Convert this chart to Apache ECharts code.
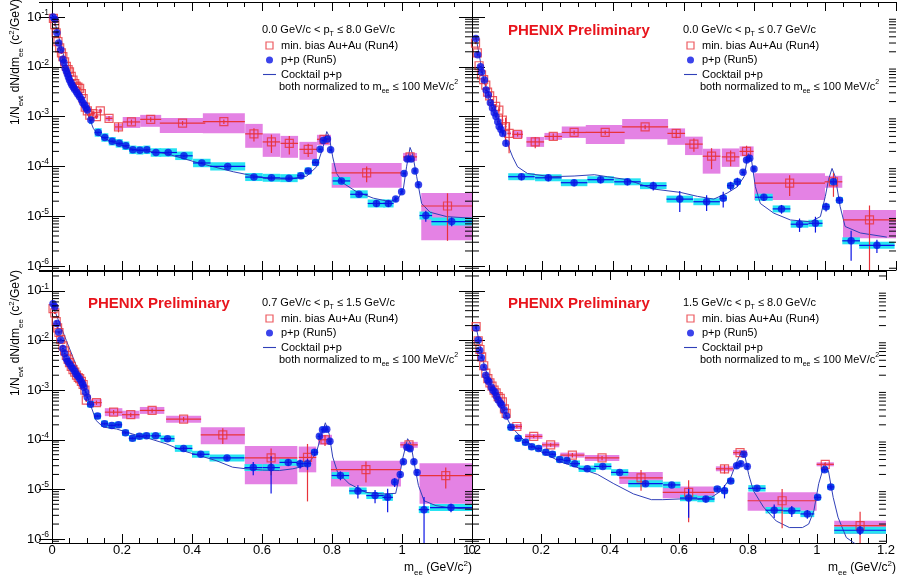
<!DOCTYPE html>
<html><head><meta charset="utf-8">
<script src="https://cdn.jsdelivr.net/npm/echarts@6/dist/echarts.min.js"></script>
<style>html,body{margin:0;padding:0;background:#fff}#c{width:898px;height:583px}</style>
</head><body><div id="c"></div>
<script>
// ---- DATA: [mass, yield, halfBinWidth, statRelErr, sysUpDex, sysDownDex] ----
const tlAuAu = [
[0.004,0.094,0.0025,0.05,0.02,0.02],[0.008,0.070,0.0025,0.05,0.02,0.02],[0.012,0.048,0.0025,0.05,0.02,0.02],
[0.017,0.032,0.0025,0.05,0.02,0.02],[0.022,0.024,0.0025,0.05,0.02,0.02],[0.027,0.019,0.0025,0.05,0.02,0.02],
[0.031,0.016,0.0025,0.05,0.02,0.02],[0.036,0.0125,0.0025,0.05,0.02,0.02],[0.041,0.0102,0.0025,0.05,0.02,0.02],
[0.046,0.0088,0.0025,0.05,0.02,0.02],[0.050,0.0079,0.0025,0.05,0.02,0.02],[0.055,0.0064,0.0025,0.05,0.02,0.02],
[0.060,0.0054,0.0025,0.05,0.02,0.02],[0.065,0.0046,0.0025,0.05,0.02,0.02],[0.069,0.0041,0.0025,0.05,0.02,0.02],
[0.074,0.0039,0.0025,0.05,0.02,0.02],[0.079,0.0037,0.0025,0.05,0.02,0.02],[0.084,0.0029,0.0025,0.05,0.02,0.02],
[0.089,0.0023,0.0025,0.05,0.02,0.02],[0.095,0.00155,0.0025,0.08,0.03,0.03],[0.101,0.0013,0.0025,0.08,0.03,0.03],
[0.108,0.00107,0.005,0.1,0.04,0.04],[0.117,0.00115,0.005,0.1,0.04,0.04],[0.127,0.0010,0.005,0.1,0.04,0.04],
[0.138,0.0013,0.005,0.1,0.04,0.04],[0.163,0.00092,0.01,0.12,0.05,0.05],[0.190,0.00062,0.01,0.22,0.06,0.06],
[0.227,0.00078,0.025,0.12,0.10,0.12],[0.282,0.00088,0.03,0.1,0.09,0.15],[0.373,0.00074,0.065,0.1,0.10,0.20],
[0.491,0.00079,0.06,0.1,0.17,0.23],[0.577,0.00045,0.025,0.3,0.20,0.28],[0.627,0.00031,0.025,0.4,0.17,0.30],
[0.678,0.00029,0.025,0.4,0.15,0.29],[0.732,0.00022,0.025,0.3,0.15,0.21],[0.777,0.00035,0.02,0.15,0.09,0.12],
[0.899,0.000074,0.1,0.35,0.20,0.30],[1.023,0.000155,0.02,0.15,0.08,0.08],[1.13,0.000016,0.075,0.8,0.26,0.69]
];
const tlPP = [
[0.003,0.10,0.0025,0.03,0.02,0.02],[0.008,0.090,0.0025,0.03,0.02,0.02],[0.014,0.048,0.0025,0.03,0.02,0.02],
[0.019,0.030,0.0025,0.03,0.02,0.02],[0.025,0.022,0.0025,0.03,0.02,0.02],[0.031,0.0142,0.0025,0.03,0.02,0.02],
[0.034,0.012,0.0025,0.03,0.02,0.02],[0.038,0.0093,0.0025,0.03,0.02,0.02],[0.041,0.0082,0.0025,0.03,0.02,0.02],
[0.044,0.0072,0.0025,0.03,0.02,0.02],[0.047,0.0062,0.0025,0.03,0.02,0.02],[0.050,0.0054,0.0025,0.03,0.02,0.02],
[0.054,0.0048,0.0025,0.03,0.02,0.02],[0.057,0.0043,0.0025,0.03,0.02,0.02],[0.061,0.0039,0.0025,0.03,0.02,0.02],
[0.065,0.0035,0.0025,0.03,0.02,0.02],[0.070,0.0031,0.0025,0.03,0.02,0.02],[0.074,0.0028,0.0025,0.03,0.02,0.02],
[0.079,0.0025,0.0025,0.03,0.02,0.02],[0.084,0.0022,0.0025,0.03,0.02,0.02],[0.088,0.0019,0.0025,0.03,0.02,0.02],
[0.093,0.0017,0.0025,0.03,0.02,0.02],[0.097,0.0015,0.0025,0.03,0.02,0.02],[0.101,0.00135,0.0025,0.03,0.04,0.04],
[0.111,0.00085,0.005,0.05,0.08,0.08],[0.132,0.00048,0.01,0.05,0.085,0.085],[0.151,0.00038,0.01,0.05,0.085,0.085],
[0.172,0.00032,0.01,0.05,0.085,0.085],[0.192,0.00029,0.01,0.05,0.085,0.085],[0.211,0.00026,0.01,0.05,0.085,0.085],
[0.231,0.000215,0.01,0.05,0.085,0.085],[0.251,0.00021,0.01,0.05,0.085,0.085],[0.271,0.000215,0.01,0.05,0.085,0.085],
[0.297,0.00019,0.015,0.05,0.085,0.085],[0.332,0.00019,0.025,0.05,0.085,0.085],[0.377,0.000163,0.025,0.05,0.085,0.085],
[0.428,0.000117,0.025,0.05,0.085,0.085],[0.502,0.000100,0.05,0.05,0.085,0.085],[0.577,0.000061,0.025,0.08,0.08,0.08],
[0.627,0.000059,0.025,0.08,0.08,0.08],[0.677,0.000058,0.025,0.08,0.08,0.08],[0.711,0.000065,0.01,0.08,0.07,0.07],
[0.732,0.000081,0.01,0.08,0.07,0.07],[0.753,0.00012,0.01,0.06,0.07,0.07],[0.766,0.00022,0.005,0.05,0.06,0.06],
[0.775,0.00033,0.005,0.05,0.06,0.06],[0.787,0.000355,0.005,0.05,0.06,0.06],[0.796,0.000215,0.005,0.05,0.06,0.06],
[0.827,0.000051,0.025,0.08,0.08,0.08],[0.877,0.0000275,0.025,0.1,0.08,0.08],[0.927,0.000018,0.025,0.15,0.08,0.08],
[0.961,0.000018,0.015,0.15,0.08,0.08],[0.982,0.000022,0.005,0.1,0.06,0.06],[0.999,0.000031,0.005,0.1,0.06,0.06],
[1.006,0.000072,0.005,0.08,0.06,0.06],[1.015,0.00014,0.005,0.06,0.06,0.06],[1.026,0.00014,0.005,0.06,0.06,0.06],
[1.037,0.000081,0.005,0.08,0.06,0.06],[1.047,0.000043,0.005,0.1,0.06,0.06],[1.068,0.0000103,0.018,0.25,0.08,0.08],
[1.142,0.0000078,0.058,0.2,0.08,0.08]
];
const tlCocktail = [[0.004,0.10],[0.042,0.01],[0.08,0.0021],[0.107,0.00093],[0.118,0.00058],[0.132,0.00043],[0.166,0.00032],
[0.232,0.00022],[0.327,0.00018],[0.423,0.000115],[0.518,0.000078],[0.613,0.000057],[0.68,0.000055],[0.728,0.000064],
[0.756,0.000098],[0.775,0.00025],[0.785,0.0005],[0.792,0.0004],[0.802,0.000155],[0.813,0.000072],[0.832,0.000046],
[0.87,0.000031],[0.918,0.000023],[0.966,0.0000195],[0.99,0.000023],[1.004,0.000036],[1.013,0.000098],[1.023,0.00024],
[1.03,0.00018],[1.042,0.000062],[1.056,0.000018],[1.08,0.000012],[1.128,0.0000098],[1.2,0.0000091]];

const trAuAu = [
[0.010,0.030,0.0025,0.05,0.02,0.02],[0.015,0.019,0.0025,0.05,0.02,0.02],[0.020,0.0105,0.0025,0.05,0.02,0.02],
[0.027,0.0069,0.0025,0.05,0.02,0.02],[0.033,0.0055,0.0025,0.05,0.02,0.02],[0.039,0.0043,0.0025,0.05,0.02,0.02],
[0.044,0.0031,0.0025,0.05,0.02,0.02],[0.050,0.0026,0.0025,0.05,0.02,0.02],[0.058,0.0021,0.0025,0.08,0.02,0.02],
[0.067,0.0016,0.0025,0.1,0.03,0.03],[0.076,0.00135,0.0025,0.15,0.03,0.03],[0.086,0.00085,0.0025,0.3,0.03,0.03],
[0.095,0.00063,0.0025,0.5,0.03,0.03],[0.105,0.00046,0.005,0.6,0.04,0.04],[0.129,0.00044,0.015,0.1,0.07,0.07],
[0.179,0.00031,0.025,0.25,0.10,0.10],[0.23,0.00040,0.025,0.15,0.07,0.07],[0.289,0.00048,0.035,0.1,0.12,0.11],
[0.377,0.00048,0.055,0.1,0.15,0.23],[0.49,0.00062,0.065,0.1,0.16,0.25],[0.578,0.00046,0.025,0.2,0.10,0.23],
[0.628,0.00028,0.025,0.3,0.15,0.22],[0.678,0.00016,0.025,0.45,0.15,0.35],[0.732,0.000155,0.025,0.35,0.17,0.20],
[0.777,0.00020,0.02,0.3,0.10,0.10],[0.899,0.000046,0.1,0.45,0.20,0.34],[1.023,0.000049,0.025,0.5,0.12,0.12],
[1.125,0.0000084,0.075,0.95,0.20,0.37]
];
const trPP = [
[0.011,0.037,0.0025,0.03,0.02,0.02],[0.016,0.0174,0.0025,0.03,0.02,0.02],[0.024,0.010,0.0025,0.03,0.02,0.02],
[0.027,0.0079,0.0025,0.03,0.02,0.02],[0.035,0.0054,0.0025,0.03,0.02,0.02],[0.040,0.0034,0.0025,0.03,0.02,0.02],
[0.046,0.0027,0.0025,0.03,0.02,0.02],[0.052,0.0019,0.0025,0.03,0.02,0.02],[0.058,0.00148,0.0025,0.03,0.02,0.02],
[0.063,0.0012,0.0025,0.05,0.02,0.02],[0.068,0.0010,0.0025,0.05,0.02,0.02],[0.073,0.00079,0.0025,0.05,0.02,0.02],
[0.077,0.00063,0.0025,0.08,0.02,0.02],[0.082,0.00055,0.0025,0.1,0.02,0.02],[0.087,0.00046,0.0025,0.1,0.02,0.02],
[0.096,0.00029,0.0025,0.15,0.03,0.03],[0.14,0.000062,0.0375,0.15,0.07,0.07],[0.216,0.000059,0.0375,0.15,0.07,0.07],
[0.289,0.000047,0.0375,0.15,0.07,0.07],[0.364,0.000054,0.0375,0.15,0.07,0.07],[0.44,0.000049,0.0375,0.15,0.07,0.07],
[0.513,0.000041,0.0375,0.2,0.07,0.07],[0.588,0.000022,0.0375,0.45,0.07,0.07],[0.664,0.0000195,0.0375,0.35,0.07,0.07],
[0.711,0.000023,0.01,0.35,0.06,0.06],[0.732,0.000041,0.01,0.2,0.06,0.06],[0.751,0.000049,0.01,0.2,0.06,0.06],
[0.767,0.000076,0.005,0.1,0.06,0.06],[0.777,0.000135,0.005,0.1,0.06,0.06],[0.786,0.000145,0.005,0.1,0.06,0.06],
[0.798,0.000089,0.005,0.1,0.06,0.06],[0.826,0.000024,0.025,0.15,0.07,0.07],[0.876,0.000014,0.025,0.2,0.07,0.07],
[0.927,0.0000069,0.025,0.3,0.07,0.07],[0.972,0.0000072,0.02,0.35,0.07,0.07],[1.002,0.0000155,0.01,0.2,0.06,0.06],
[1.023,0.000049,0.01,0.1,0.06,0.06],[1.04,0.000021,0.01,0.15,0.06,0.06],[1.073,0.0000032,0.025,0.6,0.07,0.07],
[1.146,0.0000026,0.05,0.3,0.07,0.07]
];
const trCocktail = [[0.011,0.04],[0.035,0.0047],[0.073,0.001],[0.096,0.00034],[0.115,0.000155],[0.129,0.000098],
[0.157,0.000072],[0.223,0.000062],[0.289,0.000064],[0.346,0.000068],[0.383,0.000062],[0.44,0.000054],[0.515,0.000035],
[0.59,0.00003],[0.638,0.000025],[0.684,0.000022],[0.722,0.000029],[0.751,0.000039],[0.77,0.000062],[0.782,0.00018],
[0.791,0.000135],[0.802,0.000039],[0.816,0.000018],[0.854,0.0000115],[0.901,0.0000084],[0.958,0.0000077],
[0.986,0.0000098],[1.0,0.000025],[1.009,0.000054],[1.019,0.000091],[1.028,0.000062],[1.042,0.0000155],
[1.056,0.0000062],[1.099,0.0000046],[1.174,0.0000038]];

const blAuAu = [
[0.003,0.044,0.0025,0.05,0.02,0.02],[0.008,0.036,0.0025,0.05,0.02,0.02],[0.012,0.024,0.0025,0.05,0.02,0.02],
[0.016,0.018,0.0025,0.05,0.02,0.02],[0.020,0.0145,0.0025,0.05,0.02,0.02],[0.025,0.0105,0.0025,0.05,0.02,0.02],
[0.031,0.0078,0.0025,0.05,0.02,0.02],[0.036,0.0062,0.0025,0.05,0.02,0.02],[0.041,0.0050,0.0025,0.05,0.02,0.02],
[0.046,0.0042,0.0025,0.05,0.02,0.02],[0.050,0.0036,0.0025,0.05,0.02,0.02],[0.055,0.0030,0.0025,0.05,0.02,0.02],
[0.060,0.0026,0.0025,0.05,0.02,0.02],[0.065,0.0023,0.0025,0.05,0.02,0.02],[0.070,0.0020,0.0025,0.05,0.02,0.02],
[0.075,0.0018,0.0025,0.05,0.02,0.02],[0.079,0.0017,0.0025,0.05,0.02,0.02],[0.084,0.0015,0.0025,0.05,0.02,0.02],
[0.089,0.0013,0.0025,0.05,0.02,0.02],[0.094,0.0010,0.0025,0.05,0.02,0.02],[0.098,0.00063,0.0025,0.08,0.03,0.03],
[0.127,0.00056,0.015,0.1,0.07,0.07],[0.176,0.00036,0.025,0.1,0.08,0.08],[0.225,0.00032,0.025,0.1,0.08,0.08],
[0.286,0.00039,0.035,0.1,0.07,0.07],[0.376,0.00026,0.05,0.1,0.07,0.07],[0.488,0.000126,0.063,0.35,0.15,0.19],
[0.626,0.000043,0.075,0.55,0.24,0.53],[0.73,0.000044,0.025,0.87,0.22,0.30],[0.78,0.00010,0.02,0.25,0.10,0.10],
[0.897,0.000025,0.1,0.45,0.18,0.34],[1.02,0.000079,0.025,0.1,0.06,0.06],[1.125,0.000019,0.075,0.45,0.25,0.57]
];
const blPP = [
[0.003,0.055,0.0025,0.03,0.02,0.02],[0.008,0.048,0.0025,0.03,0.02,0.02],[0.014,0.022,0.0025,0.03,0.02,0.02],
[0.019,0.0149,0.0025,0.03,0.02,0.02],[0.025,0.0102,0.0025,0.03,0.02,0.02],[0.031,0.0069,0.0025,0.03,0.02,0.02],
[0.036,0.0055,0.0025,0.03,0.02,0.02],[0.041,0.0043,0.0025,0.03,0.02,0.02],[0.045,0.0038,0.0025,0.03,0.02,0.02],
[0.050,0.0034,0.0025,0.03,0.02,0.02],[0.055,0.0030,0.0025,0.03,0.02,0.02],[0.060,0.0027,0.0025,0.03,0.02,0.02],
[0.065,0.0024,0.0025,0.03,0.02,0.02],[0.069,0.0021,0.0025,0.03,0.02,0.02],[0.074,0.0019,0.0025,0.03,0.02,0.02],
[0.079,0.0017,0.0025,0.03,0.02,0.02],[0.084,0.00148,0.0025,0.03,0.02,0.02],[0.088,0.0013,0.0025,0.03,0.02,0.02],
[0.091,0.00115,0.0025,0.03,0.02,0.02],[0.096,0.00091,0.0025,0.03,0.02,0.02],[0.101,0.00072,0.0025,0.05,0.03,0.03],
[0.11,0.00052,0.01,0.05,0.065,0.065],[0.13,0.00030,0.01,0.05,0.065,0.065],[0.15,0.00021,0.01,0.05,0.065,0.065],
[0.171,0.000194,0.01,0.05,0.065,0.065],[0.19,0.00020,0.01,0.05,0.065,0.065],[0.21,0.000138,0.01,0.05,0.065,0.065],
[0.23,0.000107,0.01,0.05,0.065,0.065],[0.25,0.000117,0.01,0.05,0.065,0.065],[0.27,0.00012,0.01,0.05,0.065,0.065],
[0.296,0.00012,0.015,0.05,0.065,0.065],[0.33,0.000105,0.02,0.05,0.065,0.065],[0.376,0.000067,0.025,0.08,0.07,0.07],
[0.425,0.000051,0.025,0.08,0.07,0.07],[0.5,0.000043,0.05,0.1,0.07,0.07],[0.575,0.0000275,0.025,0.3,0.07,0.07],
[0.626,0.0000275,0.025,0.7,0.07,0.07],[0.675,0.000035,0.025,0.15,0.07,0.07],[0.709,0.000033,0.01,0.2,0.06,0.06],
[0.73,0.000033,0.01,0.25,0.06,0.06],[0.75,0.000056,0.01,0.15,0.06,0.06],[0.764,0.000117,0.005,0.1,0.06,0.06],
[0.773,0.00016,0.005,0.1,0.06,0.06],[0.785,0.000163,0.005,0.1,0.06,0.06],[0.794,0.000093,0.005,0.1,0.06,0.06],
[0.824,0.000019,0.025,0.2,0.07,0.07],[0.874,0.0000093,0.025,0.3,0.07,0.07],[0.923,0.0000075,0.025,0.3,0.07,0.07],
[0.959,0.0000069,0.015,0.5,0.07,0.07],[0.979,0.000014,0.005,0.2,0.06,0.06],[0.995,0.000020,0.005,0.15,0.06,0.06],
[1.004,0.000036,0.005,0.1,0.06,0.06],[1.014,0.000071,0.005,0.1,0.06,0.06],[1.023,0.000066,0.005,0.1,0.06,0.06],
[1.034,0.000036,0.005,0.1,0.06,0.06],[1.043,0.000022,0.005,0.15,0.06,0.06],[1.063,0.0000039,0.015,0.8,0.07,0.07],
[1.14,0.0000043,0.06,0.2,0.07,0.07]
];
const blCocktail = [[0.0,0.055],[0.041,0.01],[0.079,0.0021],[0.1,0.00078],[0.112,0.00046],[0.126,0.000245],
[0.146,0.00018],[0.184,0.000165],[0.231,0.00013],[0.279,0.000105],[0.326,0.000083],[0.374,0.00006],[0.421,0.000048],
[0.469,0.000038],[0.516,0.000028],[0.554,0.000026],[0.602,0.0000245],[0.65,0.000024],[0.688,0.000026],[0.726,0.00003],
[0.754,0.000052],[0.768,0.000112],[0.781,0.00022],[0.792,0.00013],[0.802,0.000045],[0.816,0.000022],[0.849,0.000013],
[0.897,0.0000087],[0.944,0.0000081],[0.982,0.0000083],[0.992,0.0000175],[1.003,0.000045],[1.016,0.000105],
[1.025,0.000083],[1.037,0.000028],[1.047,0.000012],[1.063,0.0000059],[1.097,0.0000047],[1.144,0.0000042],[1.2,0.000004]];

const brAuAu = [
[0.012,0.019,0.0025,0.05,0.02,0.02],[0.018,0.0099,0.0025,0.05,0.02,0.02],[0.023,0.0066,0.0025,0.05,0.02,0.02],
[0.028,0.0047,0.0025,0.05,0.02,0.02],[0.034,0.0031,0.0025,0.05,0.02,0.02],[0.040,0.0022,0.0025,0.05,0.02,0.02],
[0.046,0.0017,0.0025,0.05,0.02,0.02],[0.052,0.0014,0.0025,0.05,0.02,0.02],[0.058,0.0012,0.0025,0.05,0.02,0.02],
[0.064,0.0010,0.0025,0.05,0.02,0.02],[0.070,0.00088,0.0025,0.05,0.02,0.02],[0.076,0.00074,0.0025,0.05,0.02,0.02],
[0.082,0.00068,0.0025,0.05,0.02,0.02],[0.088,0.00058,0.0025,0.05,0.02,0.02],[0.094,0.00042,0.0025,0.05,0.02,0.02],
[0.099,0.00034,0.0025,0.05,0.02,0.02],[0.13,0.000185,0.015,0.08,0.05,0.05],[0.179,0.000117,0.025,0.08,0.05,0.05],
[0.228,0.000079,0.025,0.08,0.05,0.05],[0.291,0.000049,0.035,0.1,0.05,0.05],[0.377,0.000043,0.05,0.1,0.06,0.06],
[0.49,0.000017,0.063,0.45,0.12,0.12],[0.628,0.0000087,0.075,0.75,0.12,0.12],[0.732,0.000026,0.025,0.2,0.05,0.05],
[0.777,0.000055,0.02,0.1,0.05,0.05],[0.899,0.0000059,0.1,0.72,0.17,0.20],[1.024,0.000032,0.025,0.1,0.04,0.04],
[1.125,0.00000186,0.075,0.9,0.10,0.17]
];
const brPP = [
[0.012,0.0178,0.0025,0.03,0.02,0.02],[0.018,0.0102,0.0025,0.03,0.02,0.02],[0.022,0.0064,0.0025,0.03,0.02,0.02],
[0.027,0.0045,0.0025,0.03,0.02,0.02],[0.034,0.0029,0.0025,0.03,0.02,0.02],[0.040,0.0020,0.0025,0.03,0.02,0.02],
[0.045,0.0016,0.0025,0.03,0.02,0.02],[0.049,0.00148,0.0025,0.03,0.02,0.02],[0.056,0.00115,0.0025,0.03,0.02,0.02],
[0.061,0.0010,0.0025,0.03,0.02,0.02],[0.067,0.00091,0.0025,0.03,0.02,0.02],[0.071,0.00075,0.0025,0.03,0.02,0.02],
[0.076,0.00063,0.0025,0.03,0.02,0.02],[0.082,0.00055,0.0025,0.03,0.02,0.02],[0.086,0.00050,0.0025,0.03,0.02,0.02],
[0.093,0.00040,0.0025,0.03,0.02,0.02],[0.100,0.00030,0.0025,0.03,0.02,0.02],[0.113,0.000178,0.01,0.05,0.065,0.065],
[0.134,0.000107,0.01,0.05,0.065,0.065],[0.155,0.000089,0.01,0.05,0.065,0.065],[0.173,0.000072,0.01,0.05,0.065,0.065],
[0.193,0.000067,0.01,0.05,0.065,0.065],[0.214,0.000056,0.01,0.05,0.065,0.065],[0.233,0.000051,0.01,0.05,0.065,0.065],
[0.254,0.000040,0.01,0.05,0.065,0.065],[0.275,0.000038,0.01,0.05,0.065,0.065],[0.298,0.000033,0.015,0.05,0.065,0.065],
[0.334,0.000026,0.025,0.05,0.065,0.065],[0.379,0.000029,0.025,0.08,0.065,0.065],[0.428,0.000022,0.025,0.08,0.065,0.065],
[0.503,0.000013,0.05,0.1,0.07,0.07],[0.579,0.0000123,0.025,0.1,0.065,0.065],[0.628,0.0000067,0.025,0.6,0.065,0.065],
[0.678,0.0000064,0.025,0.15,0.065,0.065],[0.711,0.0000102,0.01,0.1,0.06,0.06],[0.732,0.0000094,0.01,0.3,0.06,0.06],
[0.75,0.0000148,0.01,0.1,0.06,0.06],[0.767,0.000030,0.005,0.1,0.06,0.06],[0.779,0.000033,0.005,0.1,0.06,0.06],
[0.788,0.000051,0.005,0.1,0.06,0.06],[0.798,0.000029,0.005,0.1,0.06,0.06],[0.826,0.0000105,0.025,0.1,0.065,0.065],
[0.876,0.0000038,0.025,0.3,0.065,0.065],[0.927,0.0000037,0.025,0.25,0.065,0.065],[0.972,0.0000032,0.02,0.2,0.065,0.065],
[1.002,0.0000069,0.01,0.1,0.06,0.06],[1.022,0.000025,0.01,0.1,0.06,0.06],[1.04,0.0000112,0.01,0.1,0.06,0.06],
[1.125,0.0000015,0.075,0.2,0.07,0.07]
];
const brCocktail = [[0.011,0.02],[0.035,0.0033],[0.063,0.00083],[0.091,0.00038],[0.115,0.000178],[0.148,0.000103],
[0.204,0.000055],[0.261,0.000035],[0.317,0.000026],[0.364,0.00002],[0.411,0.000013],[0.468,0.0000081],[0.52,0.0000062],
[0.553,0.0000062],[0.6,0.0000064],[0.656,0.0000064],[0.694,0.0000069],[0.722,0.0000093],[0.75,0.0000174],
[0.769,0.000038],[0.782,0.00006],[0.791,0.000048],[0.802,0.00002],[0.816,0.0000093],[0.845,0.0000044],
[0.882,0.0000023],[0.92,0.0000017],[0.958,0.0000017],[0.976,0.000002],[0.991,0.0000037],[1.005,0.000013],
[1.022,0.000033],[1.033,0.000024],[1.047,0.0000069],[1.061,0.00000275],[1.085,0.00000107],[1.118,0.00000074]];

const ptLow = ['0.0', '0.0', '0.7', '1.5'];
const ptHigh = ['8.0', '0.7', '1.5', '8.0'];
const seriesNames = ['min. bias Au+Au (Run4)', 'p+p (Run5)', 'Cocktail p+p'];
const showPreliminary = [false, true, true, true];

// ---- RENDERING ----
const FONT = "'Liberation Sans', Arial, Helvetica, sans-serif";
const RED = '#e8323a', PINK = '#e482e4', CYAN = '#26e4f2', BLUE = '#0a14e6', LINE = '#3040b8';
const panels = [
  {grid:{left:52, top:2, width:420, height:268}, ymin:8.3e-7, ymax:0.2, au:tlAuAu, pp:tlPP, ck:tlCocktail, xLab:false, yLab:true, hx:262, hy:30},
  {grid:{left:472, top:2, width:424, height:268}, ymin:8.3e-7, ymax:0.2, au:trAuAu, pp:trPP, ck:trCocktail, xLab:false, yLab:false, hx:683, hy:30},
  {grid:{left:52, top:271, width:420, height:272}, ymin:8.3e-7, ymax:0.252, au:blAuAu, pp:blPP, ck:blCocktail, xLab:true, yLab:true, hx:262, hy:303},
  {grid:{left:472, top:271, width:424, height:272}, ymin:8.3e-7, ymax:0.252, au:brAuAu, pp:brPP, ck:brCocktail, xLab:true, yLab:false, hx:683, hy:303}
];

function richSet(fs, ss){
  return {
    n:{fontSize:fs, lineHeight:fs+5, fontFamily:FONT, color:'#000'},
    s:{fontSize:ss, lineHeight:ss, verticalAlign:'bottom', fontFamily:FONT, color:'#000'},
    p:{fontSize:ss, lineHeight:ss, verticalAlign:'top', fontFamily:FONT, color:'#000'}
  };
}
function boxRender(color){
  return function(params, api){
    const x=api.value(0), y=api.value(1), hw=api.value(2), up=api.value(4), dn=api.value(5);
    const a=api.coord([x-hw, y*Math.pow(10,up)]);
    const b=api.coord([x+hw, y/Math.pow(10,dn)]);
    return {type:'rect', shape:{x:a[0], y:a[1], width:b[0]-a[0], height:b[1]-a[1]}, style:{fill:color}};
  };
}
function barRender(color){
  return function(params, api){
    const x=api.value(0), y=api.value(1), hw=api.value(2), st=api.value(3);
    const l=api.coord([x-hw,y]), r=api.coord([x+hw,y]);
    const t=api.coord([x, y*(1+st)]), b=api.coord([x, Math.max(y*(1-st), 1e-7)]);
    return {type:'group', children:[
      {type:'line', shape:{x1:l[0],y1:l[1],x2:r[0],y2:r[1]}, style:{stroke:color, lineWidth:1.2}},
      {type:'line', shape:{x1:t[0],y1:t[1],x2:b[0],y2:b[1]}, style:{stroke:color, lineWidth:1.2}}
    ]};
  };
}
function tickRender(params, api){
  const v=api.value(1);
  const l=api.coord([0,v]), r=api.coord([1.2,v]);
  return {type:'group', children:[
    {type:'line', shape:{x1:l[0],y1:l[1],x2:l[0]+7,y2:l[1]}, style:{stroke:'#000', lineWidth:1}},
    {type:'line', shape:{x1:r[0],y1:r[1],x2:r[0]-7,y2:r[1]}, style:{stroke:'#000', lineWidth:1}}
  ]};
}

const option = {animation:false, backgroundColor:'#fff', grid:[], xAxis:[], yAxis:[], series:[], legend:[], graphic:[]};
const axLine = {show:true, lineStyle:{color:'#000', width:1}};
panels.forEach((p,i)=>{
  option.grid.push(Object.assign({}, p.grid));
  ['bottom','top'].forEach(pos=>{
    option.xAxis.push({gridIndex:i, type:'value', min:0, max:1.2, interval:0.2, position:pos,
      axisLine:axLine, splitLine:{show:false},
      axisTick:{show:true, inside:true, length:9, lineStyle:{color:'#000'}},
      minorTick:{show:true, splitNumber:4, length:5, lineStyle:{color:'#000'}},
      axisLabel:{show: pos==='bottom' && p.xLab, margin:1, color:'#000', fontSize:13, fontFamily:FONT}});
  });
  ['left','right'].forEach(pos=>{
    option.yAxis.push({gridIndex:i, type:'log', min:p.ymin, max:p.ymax, position:pos,
      axisLine:axLine, splitLine:{show:false},
      axisTick:{show:true, inside:true, length:13, lineStyle:{color:'#000'}},
      axisLabel:{show: pos==='left' && p.yLab, margin:3, color:'#000',
        formatter:function(v){
          const lg=Math.log10(v), e=Math.round(lg);
          if (Math.abs(lg-e)>1e-6) return '';
          return '{b|10}{e|'+e+'}';
        },
        rich:{b:{fontSize:13, lineHeight:18, fontFamily:FONT, color:'#000'},
              e:{fontSize:8.5, lineHeight:9, verticalAlign:'top', fontFamily:FONT, color:'#000'}}}});
  });
  const xi=2*i, yi=2*i;
  option.series.push({type:'custom', name:'auSys'+i, xAxisIndex:xi, yAxisIndex:yi, clip:true, z:1, silent:true,
    renderItem:boxRender(PINK), data:p.au});
  option.series.push({type:'custom', name:'ppSys'+i, xAxisIndex:xi, yAxisIndex:yi, clip:true, z:2, silent:true,
    renderItem:boxRender(CYAN), data:p.pp});
  option.series.push({type:'line', name:seriesNames[2], xAxisIndex:xi, yAxisIndex:yi, data:p.ck, showSymbol:false, symbol:'none',
    lineStyle:{color:LINE, width:1}, itemStyle:{color:LINE}, z:3, clip:true});
  option.series.push({type:'custom', name:'auErr'+i, xAxisIndex:xi, yAxisIndex:yi, clip:true, z:4, silent:true,
    renderItem:barRender(RED), data:p.au});
  option.series.push({type:'custom', name:'ppErr'+i, xAxisIndex:xi, yAxisIndex:yi, clip:true, z:4, silent:true,
    renderItem:barRender(BLUE), data:p.pp});
  option.series.push({type:'scatter', name:seriesNames[0], xAxisIndex:xi, yAxisIndex:yi, z:5,
    data:p.au.map(d=>[d[0],d[1]]), symbol:'rect', symbolSize:8,
    itemStyle:{color:'rgba(255,255,255,0)', borderColor:RED, borderWidth:1.2}});
  option.series.push({type:'scatter', name:seriesNames[1], xAxisIndex:xi, yAxisIndex:yi, z:6,
    data:p.pp.map(d=>[d[0],d[1]]), symbol:'circle', symbolSize:7.5, itemStyle:{color:BLUE}});
  const minor=[];
  for (let e=-7;e<=0;e++) for (let k=2;k<=9;k++){ const v=k*Math.pow(10,e); if (v>p.ymin && v<p.ymax) minor.push([0,v]); }
  option.series.push({type:'custom', name:'minorTicks'+i, xAxisIndex:xi, yAxisIndex:yi, clip:false, z:10, silent:true,
    renderItem:tickRender, data:minor});

  option.legend.push({left:p.hx+1, top:p.hy+9, padding:0, orient:'vertical', itemWidth:13, itemHeight:7, itemGap:1.5,
    selectedMode:false, textStyle:{fontSize:11, fontFamily:FONT, color:'#000', lineHeight:13},
    data:[
      {name:seriesNames[0], icon:'path://M0,0 L10,0 L10,10 L0,10 Z', itemStyle:{color:'rgba(255,255,255,0)', borderColor:RED, borderWidth:1.2}},
      {name:seriesNames[1], icon:'circle'},
      {name:seriesNames[2], icon:'path://M0,0 L13,0 L13,1.1 L0,1.1 Z', itemStyle:{color:LINE}}
    ]});
  const rs=richSet(11,7);
  option.graphic.push({type:'text', x:p.hx, y:p.hy, style:{text:'{n|'+ptLow[i]+' GeV/c < p}{s|T}{n| \u2264 '+ptHigh[i]+' GeV/c}', rich:rs, align:'left', verticalAlign:'middle'}});
  option.graphic.push({type:'text', x:p.hx+17, y:p.hy+57, style:{text:'{n|both normalized to m}{s|ee}{n| \u2264 100 MeV/c}{p|2}', rich:rs, align:'left', verticalAlign:'middle'}});
  if (showPreliminary[i]) {
    option.graphic.push({type:'text', x:p.grid.left+36, y:p.hy+1, style:{text:'PHENIX Preliminary', fill:'#e8141c',
      font:'bold 15px '+FONT, align:'left', verticalAlign:'middle'}});
  }
});
const rb=richSet(12,8);
option.graphic.push({type:'text', x:16, y:62, rotation:Math.PI/2, style:{text:'{n|1/N}{s|evt}{n| dN/dm}{s|ee}{n| (c}{p|2}{n|/GeV)}', rich:rb, align:'center', verticalAlign:'middle'}});
option.graphic.push({type:'text', x:16, y:333, rotation:Math.PI/2, style:{text:'{n|1/N}{s|evt}{n| dN/dm}{s|ee}{n| (c}{p|2}{n|/GeV)}', rich:rb, align:'center', verticalAlign:'middle'}});
option.graphic.push({type:'text', x:472, y:568, style:{text:'{n|m}{s|ee}{n| (GeV/c}{p|2}{n|)}', rich:rb, align:'right', verticalAlign:'middle'}});
option.graphic.push({type:'text', x:896, y:568, style:{text:'{n|m}{s|ee}{n| (GeV/c}{p|2}{n|)}', rich:rb, align:'right', verticalAlign:'middle'}});

const chart = echarts.init(document.getElementById('c'), null, {renderer:'canvas'});
chart.setOption(option);
</script></body></html>
